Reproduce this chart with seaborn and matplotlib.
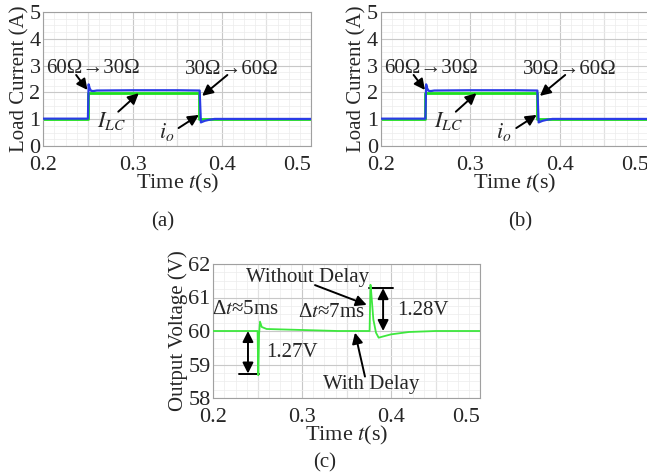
import numpy as np
import pandas as pd
import matplotlib
matplotlib.use("Agg")
import matplotlib.pyplot as plt
from matplotlib.ticker import MultipleLocator
import seaborn as sns

# load current waveforms (panels a and b share the same data)
t_io = [0.2, 0.2500, 0.2508, 0.2520, 0.2535, 0.256, 0.26, 0.30, 0.35, 0.3752, 0.3766, 0.378, 0.381, 0.386, 0.392, 0.45, 0.5]
i_o = [1.02, 1.02, 2.30, 2.15, 2.06, 2.05, 2.07, 2.08, 2.08, 2.07, 0.88, 0.90, 0.94, 0.98, 1.01, 1.01, 1.01]
t_ilc = [0.2, 0.25, 0.25, 0.375, 0.375, 0.5]
i_lc = [1.0, 1.0, 1.99, 1.99, 1.0, 1.0]

# output voltage (panel c)
t_v = [0.2, 0.2498, 0.2506, 0.2515, 0.2525, 0.2545, 0.26, 0.30, 0.34, 0.3758, 0.3768, 0.3775,
       0.380, 0.383, 0.386, 0.39, 0.40, 0.42, 0.45, 0.5]
v_o = [60.0, 60.0, 58.68, 59.9, 60.28, 60.12, 60.06, 60.03, 60.0, 60.0, 61.38, 61.2,
       60.35, 59.95, 59.8, 59.83, 59.9, 59.97, 60.0, 60.0]

xticks = [0.2, 0.3, 0.4, 0.5]

sns.set_style("white")
plt.rcParams['font.family'] = ['Liberation Serif', 'DejaVu Serif']
plt.rcParams['mathtext.fontset'] = 'stix'
plt.rcParams['font.size'] = 15

fig = plt.figure(figsize=(6.47, 4.74), dpi=100)
W, H = 647.0, 474.0

def box(l, t, r, b):
    return [l / W, 1 - b / H, (r - l) / W, (b - t) / H]

ax_a = fig.add_axes(box(43.3, 12, 311, 146))
ax_b = fig.add_axes(box(380.7, 12, 649, 146))
ax_c = fig.add_axes(box(213.3, 264, 480, 398))

arrow = dict(arrowstyle='-|>', color='k', lw=1.4, mutation_scale=16, shrinkA=0, shrinkB=0)
darrow = dict(arrowstyle='<|-|>', color='k', lw=1.4, mutation_scale=16, shrinkA=0, shrinkB=0)

def style(ax, ylim, ymajor, yminor, ylabel):
    ax.set_xlim(0.2, 0.5)
    ax.set_ylim(*ylim)
    ax.set_xticks(xticks)
    ax.xaxis.set_minor_locator(MultipleLocator(0.0125))
    ax.yaxis.set_major_locator(MultipleLocator(ymajor))
    ax.yaxis.set_minor_locator(MultipleLocator(yminor))
    # major grid every 0.05 s
    for xv in np.arange(0.25, 0.5, 0.1):
        ax.axvline(xv, color='#c8c8c8', lw=0.8, zorder=0.5)
    ax.grid(which='major', color='#c8c8c8', lw=0.8)
    ax.grid(which='minor', color='#ececec', lw=0.5)
    ax.set_axisbelow(True)
    ax.tick_params(axis='x', length=0, pad=7, labelsize=16)
    ax.tick_params(axis='y', length=0, pad=2, labelsize=16)
    for s in ax.spines.values():
        s.set_color('#a0a0a0')
        s.set_linewidth(0.8)
    ax.set_xlabel('Time $t$(s)', labelpad=-2, fontsize=16)
    ax.set_ylabel(ylabel, labelpad=0, fontsize=15)
    labels = ax.get_xticklabels()
    labels[-1].set_ha('right')

for ax in (ax_a, ax_b):
    sns.lineplot(x=t_ilc, y=i_lc, ax=ax, color='#1ee01e', lw=2.0, zorder=2,
                 estimator=None, sort=False)
    sns.lineplot(x=t_io, y=i_o, ax=ax, color='#2a3ce6', lw=1.6, zorder=3,
                 estimator=None, sort=False)
    style(ax, (0, 5), 1, 0.25, 'Load Current (A)')
    ax.text(0.2559, 2.9, '60Ω→30Ω', ha='center', va='center', fontsize=15)
    ax.annotate('', xy=(0.2495, 2.09), xytext=(0.2368, 2.65), arrowprops=arrow)
    ax.text(0.411, 2.84, '30Ω→60Ω', ha='center', va='center', fontsize=15)
    ax.annotate('', xy=(0.378, 1.87), xytext=(0.4063, 2.65), arrowprops=arrow)
    ax.text(0.276, 0.95, '$I_{LC}$', ha='center', va='center', fontsize=16)
    ax.annotate('', xy=(0.307, 1.97), xytext=(0.284, 1.28), arrowprops=arrow)
    ax.text(0.338, 0.53, '$i_o$', ha='center', va='center', fontsize=16)
    ax.annotate('', xy=(0.3744, 1.16), xytext=(0.3516, 0.67), arrowprops=arrow)

sns.lineplot(x=t_v, y=v_o, ax=ax_c, color='#3ee83e', lw=1.3, zorder=3,
             estimator=None, sort=False)
style(ax_c, (58, 62), 1, 0.25, 'Output Voltage (V)')
ax_c.text(0.306, 61.6, 'Without Delay', ha='center', va='center', fontsize=15)
ax_c.annotate('', xy=(0.3726, 60.78), xytext=(0.3144, 61.37), arrowprops=arrow)
ax_c.text(0.236, 60.63, 'Δ$t$≈5ms', ha='center', va='center', fontsize=15)
ax_c.text(0.3325, 60.54, 'Δ$t$≈7ms', ha='center', va='center', fontsize=15)
ax_c.text(0.289, 59.35, '1.27V', ha='center', va='center', fontsize=15)
ax_c.text(0.436, 60.6, '1.28V', ha='center', va='center', fontsize=15)
ax_c.text(0.378, 58.39, 'With Delay', ha='center', va='center', fontsize=15)
ax_c.annotate('', xy=(0.3594, 59.95), xytext=(0.3706, 58.64), arrowprops=arrow)
ax_c.annotate('', xy=(0.239, 58.73), xytext=(0.239, 60.0), arrowprops=darrow)
ax_c.plot([0.229, 0.2515], [58.73, 58.73], color='k', lw=1.4)
ax_c.annotate('', xy=(0.391, 60.0), xytext=(0.391, 61.28), arrowprops=darrow)
ax_c.plot([0.375, 0.402], [61.28, 61.28], color='k', lw=1.4)

fig.text(163 / W, 1 - 222 / H, '(a)', ha='center', va='center', fontsize=15)
fig.text(520 / W, 1 - 222 / H, '(b)', ha='center', va='center', fontsize=15)
fig.text(325 / W, 1 - 463 / H, '(c)', ha='center', va='center', fontsize=15)

fig.savefig('out.png', dpi=100)
